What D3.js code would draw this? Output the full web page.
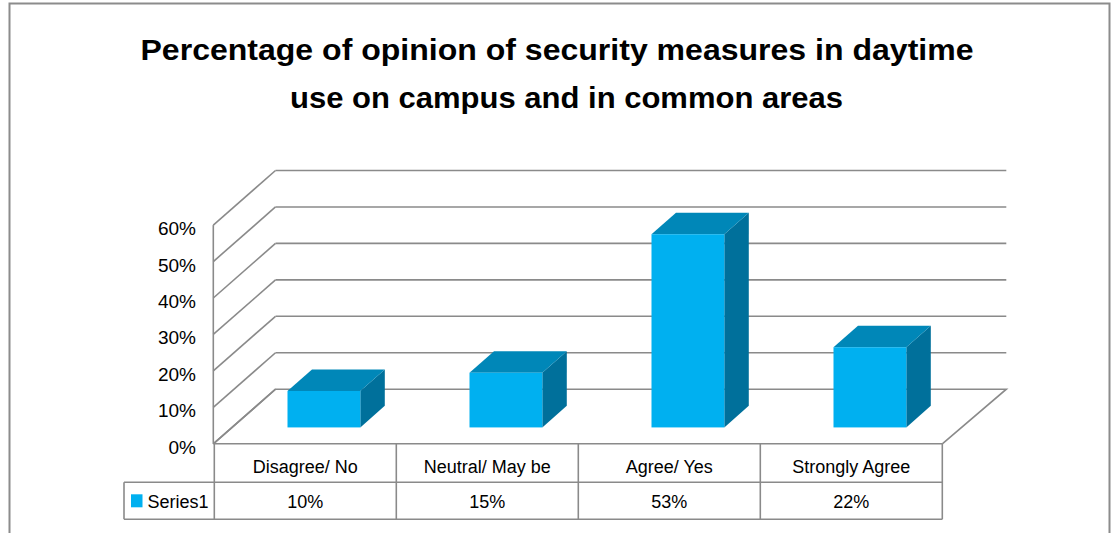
<!DOCTYPE html>
<html>
<head>
<meta charset="utf-8">
<script src="https://cdn.jsdelivr.net/npm/d3@7"></script>
<style>
  html, body { margin: 0; padding: 0; background: #ffffff; }
  svg { display: block; }
  text { font-family: "Liberation Sans", Arial, sans-serif; fill: #000; }
</style>
</head>
<body>
<svg id="chart" width="1111" height="533"></svg>
<script>
// ---- data ----
const titleLines = ["Percentage of opinion of security measures in daytime",
                    "use on campus and in common areas"];
const categories = ["Disagree/ No", "Neutral/ May be", "Agree/ Yes", "Strongly Agree"];
const seriesName = "Series1";
const series1 = [0.10, 0.15, 0.53, 0.22];
const valueLabels = ["10%", "15%", "53%", "22%"];
const yTicks = [0, 0.1, 0.2, 0.3, 0.4, 0.5, 0.6];

// ---- layout ----
const svg = d3.select("#chart");
const W = 1111, H = 533;
const frontLeft = 214.3, frontRight = 942.3;
const floorFrontY = 443.8;
const depthDX = 62, depthDY = -54.6;     // full depth of the 3D box
const barF1 = 0.30, barF2 = 0.695;       // bar front / back depth fractions
const plotH = 218.7;                      // height of 0..60% on the walls
const gridColor = "#8a8a8a";
const front = "#00b0f0", topC = "#0087b8", sideC = "#00709b";

const x = d3.scaleBand().domain(categories).range([frontLeft, frontRight]).padding(0);
const h = d3.scaleLinear().domain([0, 0.6]).range([0, plotH]);
const fmt = d3.format(".0%");

svg.append("rect").attr("width", W).attr("height", H).attr("fill", "#fff");

// outer frame (bottom runs past the window)
svg.append("path")
  .attr("d", `M9.5,${H + 10} V3.5 H1109.5 V${H + 10}`)
  .attr("fill", "none").attr("stroke", "#8c8c8c").attr("stroke-width", 2);

// title
const titleCenters = [557, 566.5], titleWidths = [833, 553], titleBase = [59.5, 107.5];
titleLines.forEach((t, i) => {
  svg.append("text")
    .attr("x", titleCenters[i]).attr("y", titleBase[i])
    .attr("text-anchor", "middle")
    .attr("font-size", 30).attr("font-weight", "bold")
    .attr("textLength", titleWidths[i]).attr("lengthAdjust", "spacingAndGlyphs")
    .text(t);
});

// walls: back-wall gridlines, left wall diagonals, front axis
const backLeft = frontLeft + depthDX - 0.8, backRight = frontRight + depthDX + 2;
const backY = v => floorFrontY + depthDY - h(v);
const frontY = v => floorFrontY - h(v);
const g = svg.append("g").attr("fill", "none").attr("stroke", gridColor).attr("stroke-width", 1.6);
yTicks.forEach(v => {
  if (v > 0) g.append("line").attr("x1", backLeft).attr("x2", backRight).attr("y1", backY(v)).attr("y2", backY(v));
  g.append("line").attr("x1", frontLeft - 1).attr("y1", frontY(v)).attr("x2", backLeft).attr("y2", backY(v));
});
g.append("line").attr("x1", frontLeft - 1).attr("x2", frontLeft - 1)
  .attr("y1", frontY(0.6)).attr("y2", floorFrontY);
// floor
g.append("path")
  .attr("d", `M${frontLeft - 1},${floorFrontY} L${backLeft},${backY(0)} L${backRight},${backY(0)} L${frontRight},${floorFrontY}`);

// y axis labels
svg.append("g").selectAll("text").data(yTicks).join("text")
  .attr("x", 196).attr("y", d => frontY(d) + 3.5)
  .attr("text-anchor", "end").attr("dominant-baseline", "central")
  .attr("font-size", 19).attr("fill", "#222")
  .text(d => fmt(d));

// 3D bars
const bw = x.bandwidth() * 0.40;
const bdx = depthDX * (barF2 - barF1), bdy = depthDY * (barF2 - barF1);
const bars = svg.append("g").selectAll("g").data(categories.map((c, i) => ({c, v: series1[i]}))).join("g");
bars.each(function(d) {
  const sel = d3.select(this);
  const cx = x(d.c) + x.bandwidth() / 2 + depthDX * barF1;
  const x0 = cx - bw / 2, x1 = cx + bw / 2;
  const yb = floorFrontY + depthDY * barF1;
  const yt = yb - h(d.v);
  // side
  sel.append("path").attr("fill", sideC)
    .attr("d", `M${x1},${yb} L${x1 + bdx},${yb + bdy} L${x1 + bdx},${yt + bdy} L${x1},${yt} Z`);
  // top
  sel.append("path").attr("fill", topC)
    .attr("d", `M${x0},${yt} L${x0 + bdx},${yt + bdy} L${x1 + bdx},${yt + bdy} L${x1},${yt} Z`);
  // front
  sel.append("rect").attr("fill", front)
    .attr("x", x0).attr("y", yt).attr("width", bw).attr("height", h(d.v));
});

// data table
const rowTop = floorFrontY, rowMid = 482.3, rowBot = 519.3, legendLeft = 124;
const tg = svg.append("g").attr("fill", "none").attr("stroke", gridColor).attr("stroke-width", 1.6);
tg.append("line").attr("x1", frontLeft).attr("x2", frontRight).attr("y1", rowTop).attr("y2", rowTop);
tg.append("line").attr("x1", legendLeft).attr("x2", frontRight).attr("y1", rowMid).attr("y2", rowMid);
tg.append("line").attr("x1", legendLeft).attr("x2", frontRight).attr("y1", rowBot).attr("y2", rowBot);
tg.append("line").attr("x1", legendLeft).attr("x2", legendLeft).attr("y1", rowMid).attr("y2", rowBot);
categories.concat(["__end"]).forEach((c, i) => {
  const xx = i < categories.length ? x(c) : frontRight;
  tg.append("line").attr("x1", xx).attr("x2", xx).attr("y1", rowTop).attr("y2", rowBot);
});

svg.append("g").selectAll("text").data(categories).join("text")
  .attr("x", d => x(d) + x.bandwidth() / 2).attr("y", (rowTop + rowMid) / 2 + 4)
  .attr("text-anchor", "middle").attr("dominant-baseline", "central")
  .attr("font-size", 18).attr("fill", "#222")
  .text(d => d);

svg.append("g").selectAll("text").data(valueLabels).join("text")
  .attr("x", (d, i) => x(categories[i]) + x.bandwidth() / 2).attr("y", (rowMid + rowBot) / 2 + 1)
  .attr("text-anchor", "middle").attr("dominant-baseline", "central")
  .attr("font-size", 18).attr("fill", "#222")
  .text(d => d);

// legend key in table
svg.append("rect").attr("x", 131).attr("y", 494.3).attr("width", 11.5).attr("height", 13).attr("fill", front);
svg.append("text").attr("x", 147.5).attr("y", (rowMid + rowBot) / 2 + 1)
  .attr("dominant-baseline", "central").attr("font-size", 18).attr("fill", "#222")
  .text(seriesName);
</script>
</body>
</html>
